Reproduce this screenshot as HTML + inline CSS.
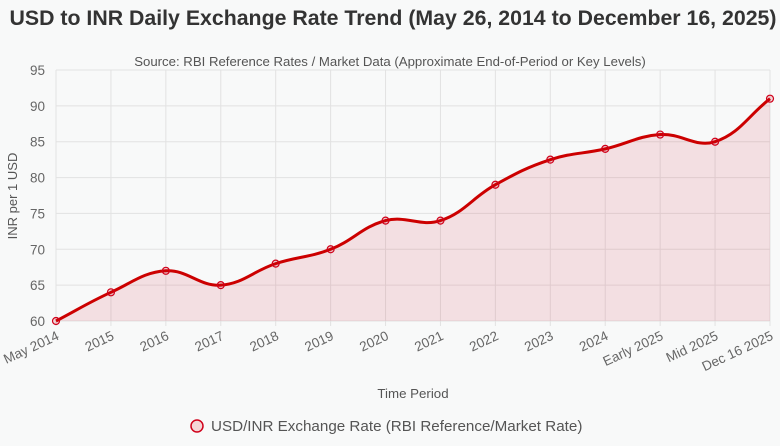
<!DOCTYPE html>
<html><head><meta charset="utf-8"><style>
body{margin:0;background:#f8f9f9;font-family:"Liberation Sans",sans-serif;}
svg{display:block}
</style></head><body>
<svg width="780" height="446" xmlns="http://www.w3.org/2000/svg">
<text x="393" y="25" text-anchor="middle" font-size="21.3" font-weight="bold" fill="#333">USD to INR Daily Exchange Rate Trend (May 26, 2014 to December 16, 2025)</text>
<text x="390" y="66" text-anchor="middle" font-size="13.2" fill="#555">Source: RBI Reference Rates / Market Data (Approximate End-of-Period or Key Levels)</text>
<g id="grid"></g><g id="plot"></g><g id="axes"></g>
<text x="413" y="398" text-anchor="middle" font-size="13.3" fill="#555">Time Period</text>
<text transform="translate(17,196) rotate(-90)" text-anchor="middle" font-size="13" fill="#555">INR per 1 USD</text>
<g>
<circle cx="197" cy="426" r="6" fill="#f5d5d7" stroke="#d0021b" stroke-width="1.5"/>
<text x="211" y="431" font-size="15.2" fill="#555">USD/INR Exchange Rate (RBI Reference/Market Rate)</text>
</g>
</svg>
<script>
const categories=["May 2014","2015","2016","2017","2018","2019","2020","2021","2022","2023","2024","Early 2025","Mid 2025","Dec 16 2025"];
const rates=[60,64,67,65,68,70,74,74,79,82.5,84,86,85,91];
const yTicks=[60,65,70,75,80,85,90,95];
const L=56,R=770,T=70,B=321,yMin=60,yMax=95;
const ns="http://www.w3.org/2000/svg";
const xs=i=>L+i*(R-L)/(categories.length-1);
const ys=v=>B-(v-yMin)/(yMax-yMin)*(B-T);
function mk(t,a,p){const e=document.createElementNS(ns,t);for(const k in a)e.setAttribute(k,a[k]);p.appendChild(e);return e;}
const grid=document.getElementById('grid'),plot=document.getElementById('plot'),axes=document.getElementById('axes');
yTicks.forEach(v=>{
const l=mk('line',{x1:L,x2:R,y1:ys(v),y2:ys(v),stroke:'#e2e2e2'},grid);


const t=mk('text',{x:L-11,y:ys(v)+5,'text-anchor':'end','font-size':13.5,fill:'#666'},axes);
t.textContent=v;


});
categories.forEach((c,i)=>{
const l=mk('line',{x1:xs(i),x2:xs(i),y1:T,y2:B+5,stroke:'#e2e2e2'},grid);


const t=mk('text',{transform:`translate(${xs(i)+4},${B+18}) rotate(-25)`,'text-anchor':'end','font-size':13.5,fill:'#666'},axes);
t.textContent=c;


});
const pts=rates.map((v,i)=>[xs(i),ys(v)]);
const ten=0.4;
function cps(i){const p=pts[Math.max(i-1,0)],c=pts[i],n=pts[Math.min(i+1,pts.length-1)];
const d01=Math.hypot(c[0]-p[0],c[1]-p[1]),d12=Math.hypot(n[0]-c[0],n[1]-c[1]);
let s01=d01/(d01+d12)||0,s12=d12/(d01+d12)||0;const fa=ten*s01,fb=ten*s12;
return [[c[0]-fa*(n[0]-p[0]),c[1]-fa*(n[1]-p[1])],[c[0]+fb*(n[0]-p[0]),c[1]+fb*(n[1]-p[1])]];}
const cp=pts.map((_,i)=>cps(i));
let d=`M${pts[0][0]},${pts[0][1]}`;
for(let i=1;i<pts.length;i++){const a=cp[i-1][1],b=cp[i][0];d+=` C${a[0]},${a[1]} ${b[0]},${b[1]} ${pts[i][0]},${pts[i][1]}`;}
const area=mk('path',{d:d+` L${pts[pts.length-1][0]},${B} L${pts[0][0]},${B} Z`,fill:'rgba(208,2,27,0.1)'},plot);


const line=mk('path',{d:d,fill:'none',stroke:'#cc0000','stroke-width':3},plot);


pts.forEach(p=>{const c=mk('circle',{cx:p[0],cy:p[1],r:3.5,fill:'rgba(208,2,27,0.15)',stroke:'#d0021b','stroke-width':1.2},plot);

});
</script>
</body></html>
